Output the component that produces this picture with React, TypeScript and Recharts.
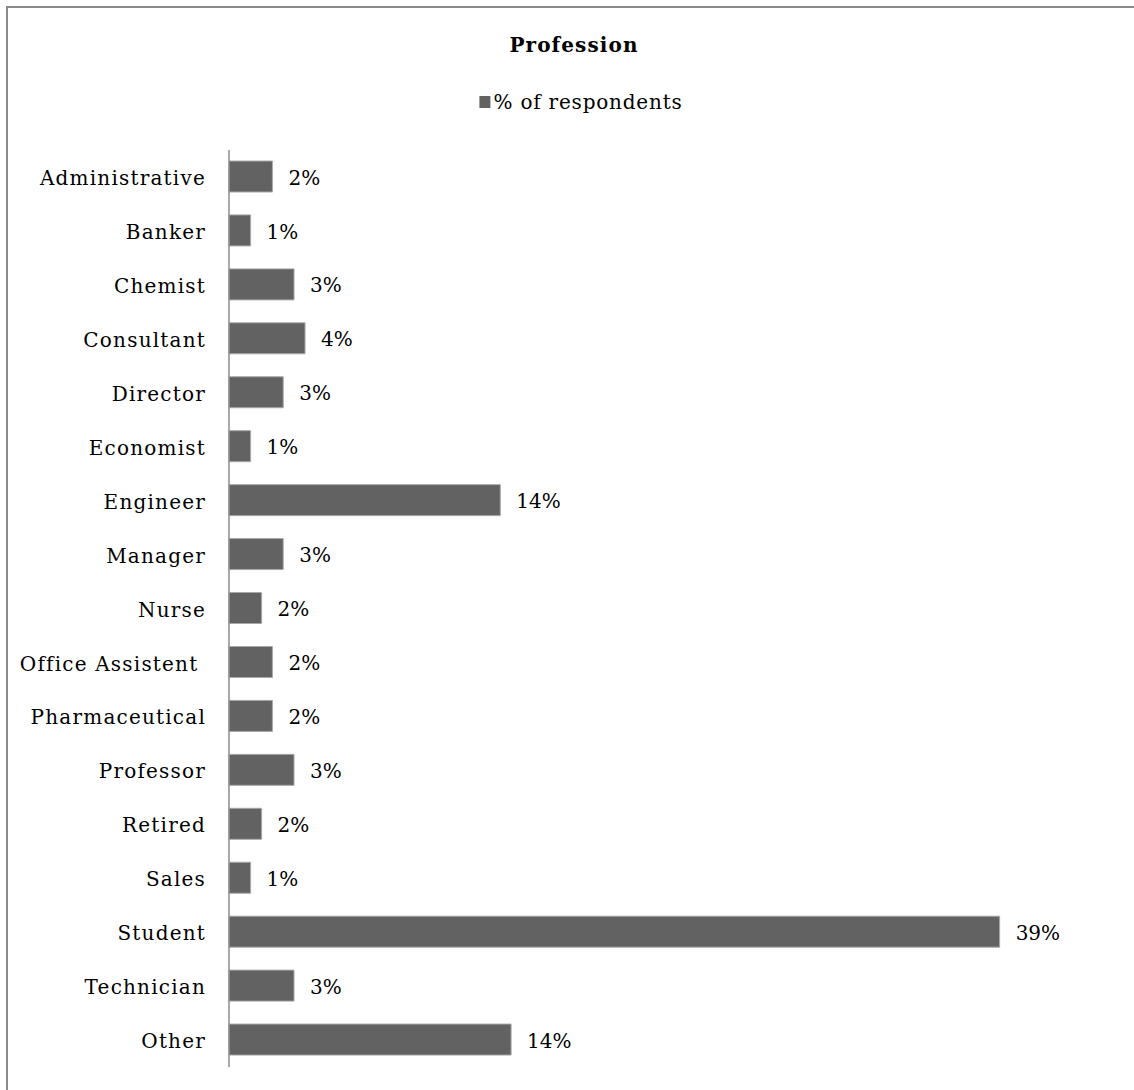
import React from "react";
import { BarChart, Bar, XAxis, YAxis, LabelList } from "recharts";

const professions = [
  "Administrative",
  "Banker",
  "Chemist",
  "Consultant",
  "Director",
  "Economist",
  "Engineer",
  "Manager",
  "Nurse",
  "Office Assistent\u00a0",
  "Pharmaceutical",
  "Professor",
  "Retired",
  "Sales",
  "Student",
  "Technician",
  "Other",
];

// % of respondents (bar lengths, labels are rounded)
const respondents = [
  2.21, 1.1, 3.31, 3.87, 2.76, 1.1, 13.81, 2.76, 1.66, 2.21, 2.21, 3.31, 1.66, 1.1, 39.23, 3.31,
  14.36,
];

const data = professions.map((name, i) => ({ name, value: respondents[i] }));

const FONT = "'DejaVu Serif', serif";
const BAR = "#626262";

export default function App() {
  return (
    <div
      style={{
        position: "fixed",
        left: 0,
        top: 0,
        width: 1134,
        height: 1090,
        overflow: "hidden",
        background: "#fff",
        fontFamily: FONT,
      }}
    >
      <div
        style={{
          position: "absolute",
          left: 6,
          top: 6,
          width: 1200,
          height: 1200,
          borderLeft: "2px solid #8a8a8a",
          borderTop: "2px solid #8a8a8a",
        }}
      />
      <div
        style={{
          position: "absolute",
          left: 574,
          top: 33,
          transform: "translateX(-50%)",
          fontWeight: "bold",
          fontSize: 20,
          lineHeight: "24px",
          letterSpacing: 1.1,
          whiteSpace: "nowrap",
        }}
      >
        Profession
      </div>
      <div
        style={{
          position: "absolute",
          left: 581,
          top: 90,
          transform: "translateX(-50%)",
          fontSize: 20,
          lineHeight: "24px",
          letterSpacing: 0.8,
          whiteSpace: "nowrap",
          display: "flex",
          alignItems: "center",
        }}
      >
        <span
          style={{ display: "inline-block", width: 11, height: 12, background: BAR, marginRight: 3 }}
        />
        % of respondents
      </div>
      <div style={{ position: "absolute", left: 0, top: 0 }}>
        <BarChart
          width={1134}
          height={1090}
          data={data}
          layout="vertical"
          margin={{ top: 150, right: 21, bottom: 23, left: 0 }}
        >
          <XAxis type="number" domain={[0, 45]} hide />
          <YAxis
            type="category"
            dataKey="name"
            width={229}
            interval={0}
            tickLine={false}
            tickSize={8}
            tickMargin={15}
            axisLine={{ stroke: "#8c8c8c", strokeWidth: 1.5 }}
            tick={{ fill: "#000", fontSize: 20, fontFamily: FONT, letterSpacing: 1.2, dy: 1 }}
          />
          <Bar
            dataKey="value"
            fill={BAR}
            stroke="#a8a8a8"
            strokeWidth={1}
            barSize={31}
            isAnimationActive={false}
          >
            <LabelList
              dataKey="value"
              position="right"
              offset={16}
              fill="#000"
              fontSize={20}
              fontFamily={FONT}
              dy={1}
              formatter={(v: any) => `${Math.round(Number(v))}%`}
            />
          </Bar>
        </BarChart>
      </div>
    </div>
  );
}
